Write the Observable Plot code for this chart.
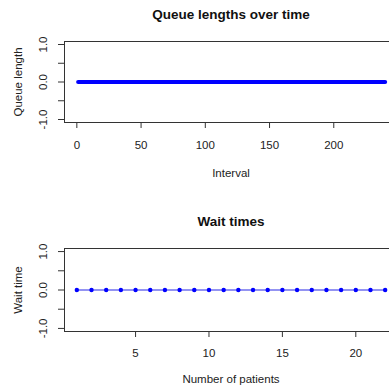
<!DOCTYPE html>
<html><head><meta charset="utf-8">
<script src="https://cdn.jsdelivr.net/npm/d3@7"></script>
<script src="https://cdn.jsdelivr.net/npm/@observablehq/plot@0.6"></script>
<style>
body{margin:0;background:#fff;overflow:hidden;}
#wrap{width:389px;height:390px;overflow:hidden;background:#fff;}
#wrap svg{display:block;max-width:none !important;width:397px !important;height:195px !important;}
</style></head><body><div id="wrap"></div>
<script>
// Queue length per interval (all zero in the reference)
const queueLengths = [
0,0,0,0,0,0,0,0,0,0,0,0,0,0,0,0,0,0,0,0,
0,0,0,0,0,0,0,0,0,0,0,0,0,0,0,0,0,0,0,0,
0,0,0,0,0,0,0,0,0,0,0,0,0,0,0,0,0,0,0,0,
0,0,0,0,0,0,0,0,0,0,0,0,0,0,0,0,0,0,0,0,
0,0,0,0,0,0,0,0,0,0,0,0,0,0,0,0,0,0,0,0,
0,0,0,0,0,0,0,0,0,0,0,0,0,0,0,0,0,0,0,0,
0,0,0,0,0,0,0,0,0,0,0,0,0,0,0,0,0,0,0,0,
0,0,0,0,0,0,0,0,0,0,0,0,0,0,0,0,0,0,0,0,
0,0,0,0,0,0,0,0,0,0,0,0,0,0,0,0,0,0,0,0,
0,0,0,0,0,0,0,0,0,0,0,0,0,0,0,0,0,0,0,0,
0,0,0,0,0,0,0,0,0,0,0,0,0,0,0,0,0,0,0,0,
0,0,0,0,0,0,0,0,0,0,0,0,0,0,0,0,0,0,0,0
];
// Wait time per patient (all zero in the reference)
const waitTimes = [0,0,0,0,0,0,0,0,0,0,0,0,0,0,0,0,0,0,0,0,0,0];

const queueXTicks = [0, 50, 100, 150, 200];
const waitXTicks = [5, 10, 15, 20];
const yTicks = [-1, -0.5, 0, 0.5, 1];
const yLabelValues = [-1, 0, 1];
const yLabelTexts = ["-1.0", "0.0", "1.0"];

const titles = ["Queue lengths over time", "Wait times"];
const xLabels = ["Interval", "Number of patients"];
const yLabels = ["Queue length", "Wait time"];

const queueData = queueLengths.map((v, i) => ({interval: i + 1, value: v}));
const waitData = waitTimes.map((v, i) => ({patient: i + 1, value: v}));

const FONT = "'Liberation Sans', Arial, sans-serif";
const INK = "#222";

function commonMarks(title, xLabel, yLabel, xTicks, tickPad, titleDy, xLabDy) {
  return [
    Plot.frame({stroke: "#333", strokeWidth: 1}),
    Plot.axisX({ticks: xTicks, tickSize: 6, tickPadding: tickPad, label: null, fontSize: 11.5, stroke: "#333"}),
    Plot.axisY({ticks: yTicks, tickSize: 6, tickFormat: () => "", label: null, stroke: "#333"}),
    Plot.text(yLabelValues, {y: d => d, text: (d, i) => yLabelTexts[i], frameAnchor: "left", rotate: -90, dx: -21, textAnchor: "middle", lineAnchor: "middle", fontSize: 11.5, fill: INK}),
    Plot.text([title], {text: d => d, frameAnchor: "top", dy: titleDy, lineAnchor: "middle", fontWeight: "bold", fontSize: 13.5, fill: "#111"}),
    Plot.text([xLabel], {text: d => d, frameAnchor: "bottom", dy: xLabDy, lineAnchor: "middle", fontSize: 11.5, fill: INK}),
    Plot.text([yLabel], {text: d => d, frameAnchor: "left", rotate: -90, dx: -46, lineAnchor: "middle", textAnchor: "middle", fontSize: 11.5, fill: INK})
  ];
}

const queuePlot = Plot.plot({
  width: 397, height: 195,
  marginLeft: 64, marginRight: 0, marginTop: 41, marginBottom: 73,
  style: {fontFamily: FONT, color: INK, background: "white", overflow: "visible"},
  x: {domain: [-9.6, 249.6]},
  y: {domain: [-1.08, 1.08]},
  marks: [
    ...commonMarks(titles[0], xLabels[0], yLabels[0], queueXTicks, 12, -27, 51),
    Plot.line(queueData, {x: "interval", y: "value", stroke: "blue", strokeWidth: 4, strokeLinecap: "round"})
  ]
});

const waitPlot = Plot.plot({
  width: 397, height: 195,
  marginLeft: 64, marginRight: 0, marginTop: 53, marginBottom: 59,
  style: {fontFamily: FONT, color: INK, background: "white", overflow: "visible"},
  x: {domain: [0.16, 22.84]},
  y: {domain: [-1.08, 1.08]},
  marks: [
    ...commonMarks(titles[1], xLabels[1], yLabels[1], waitXTicks, 11, -26.5, 48),
    Plot.line(waitData, {x: "patient", y: "value", stroke: "#7070ee", strokeWidth: 1.4}),
    Plot.dot(waitData, {x: "patient", y: "value", fill: "blue", r: 2.2, stroke: "none"})
  ]
});

const wrap = document.getElementById("wrap");
wrap.appendChild(queuePlot);
wrap.appendChild(waitPlot);
</script>
</body></html>
